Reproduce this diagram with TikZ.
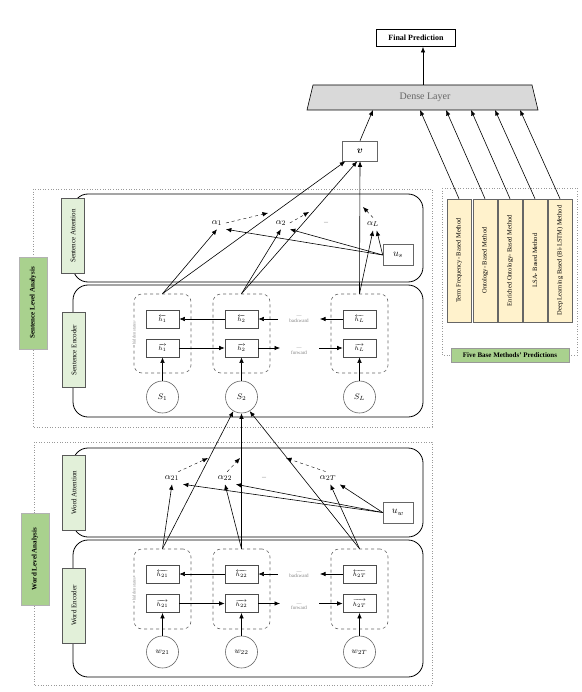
\documentclass[tikz,border=0pt]{standalone}
\usepackage{amsmath}
\usepackage{fontspec}
\setmainfont{Liberation Serif}
\usepackage{tikz}
\usetikzlibrary{arrows.meta}

\definecolor{labgreen}{HTML}{E2F0D9}
\definecolor{anagreen}{HTML}{A9D18E}
\definecolor{methyellow}{HTML}{FFF2CC}

\begin{document}
\begin{tikzpicture}[x=1pt, y=-1pt, semithick,
    >={Latex[length=5.5pt,width=4.5pt]},
    lab/.style={draw=black!65, fill=labgreen, rotate=90, minimum width=75, minimum height=23, inner sep=1, font=\fontsize{7}{8}\selectfont},
    ana/.style={draw=black!30, fill=anagreen, rotate=90, minimum width=92, minimum height=28, inner sep=1, font=\fontsize{7}{8}\selectfont\bfseries},
    block/.style={draw, line width=0.8pt, rounded corners=15, minimum width=350},
    grp/.style={draw=black!60, dashed, rounded corners=8, minimum width=57, minimum height=79},
    hbox/.style={draw=black!70, line width=0.7pt, minimum width=33, minimum height=18, inner sep=0, font=\fontsize{6}{7}\selectfont},
    inp/.style={circle, draw=black!60, minimum size=32, inner sep=0, font=\fontsize{8}{9}\selectfont},
    meth/.style={draw=black!60, fill=methyellow, rotate=90, minimum width=123, minimum height=24, inner sep=1, font=\fontsize{6.5}{7}\selectfont},
    alab/.style={font=\fontsize{9.5}{10}\selectfont},
    dots/.style={text=black!50, align=center, inner sep=0, font=\fontsize{5}{4.5}\selectfont},
    dash arrow/.style={->, dashed, thin}]
    % Frame
    \useasboundingbox (0,0) rectangle (581,692);

    % Output
    \node[draw, line width=0.9pt, minimum width=79, minimum height=17, font=\fontsize{8}{9}\selectfont\bfseries] (final) at (416,38) {Final Prediction};
    \draw[fill=black!15] (307,110) -- (313,85) -- (532,85) -- (538,110) -- cycle;
    \node[text=black!60, font=\fontsize{10}{12}\selectfont] (dense) at (425,97.5) {Dense Layer};
    \coordinate (dtop) at (423,85);
    \draw[->] (dtop) -- (dtop |- final.south);
    \node[draw=black!60, minimum width=35, minimum height=20] (v) at (360,151) {$\boldsymbol{v}$};
    \coordinate (dv) at (373,110);
    \draw[->] (v.north) -- (dv);

    % Base methods
    \draw[dotted, black!40] (442,188) rectangle (577,355);
    \foreach \i/\x/\dx/\name in {1/459/420/Term Frequency- Based Method, 2/485/446/Ontology- Based Method, 3/510/471/Enriched Ontology- Based Method, 4/535/495/LSA- Based Method, 5/560/520/Deep Learning Based (Bi-LSTM) Method}{
        \node[meth] (m\i) at (\x,260.5) {\name};
        \coordinate (d\i) at (\dx,110);
        \draw[->] (m\i.east) -- (d\i);
    }
    \node[draw=black!40, fill=anagreen, minimum width=118, minimum height=14, inner sep=1, font=\fontsize{7}{8}\selectfont\bfseries] (five) at (510,355) {Five Base Methods' Predictions};

    % Sentence level
    \draw[dotted, black!40] (33,189) rectangle (432,427);
    \node[ana] (slevel) at (33,303) {Sentence Level Analysis};
    \node[block, minimum height=88] (satt) at (248,238) {};
    \node[block, minimum height=132] (senc) at (248,351) {};
    \node[lab] (sattlab) at (73,236) {Sentence Attention};
    \node[lab] (senclab) at (74,350) {Sentence Encoder};

    % Sentence encoder
    \foreach \i/\x/\s in {1/162.5/1, 2/241.5/2, 3/359.5/L}{
        \node[grp] (sg\i) at (\x,333.5) {};
        \node[hbox] (sb\i) at (\x,319) {$\overleftarrow{h_\s}$};
        \node[hbox] (sf\i) at (\x,348) {$\overrightarrow{h_\s}$};
        \node[inp] (s\i) at (\x,397) {$S_\s$};
        \draw[->] (s\i) -- (sf\i);
    }
    \node[text=black!45, rotate=90, fill=white, inner sep=0.5, font=\fontsize{4.5}{5}\selectfont] (shid) at (134,333) {hidden states};
    \coordinate (sbk1) at (278,319);
    \coordinate (sbk2) at (320,319);
    \coordinate (sfw1) at (280,348);
    \coordinate (sfw2) at (319,348);
    \draw[->] (sb2) -- (sb1);
    \draw[->] (sbk1) -- (sb2);
    \draw[->] (sb3) -- (sbk2);
    \draw[->] (sf1) -- (sf2);
    \draw[->] (sf2) -- (sfw1);
    \draw[->] (sfw2) -- (sf3);
    \node[dots] (sbw) at (299,319.5) {---\\backward};
    \node[dots] (sfw) at (299,351.5) {---\\forward};

    % Sentence attention
    \node[alab] (a1) at (217,223) {$\alpha_1$};
    \node[alab] (a2) at (281,223) {$\alpha_2$};
    \node[dots, font=\fontsize{8}{8}\selectfont] (sdots) at (326,223) {--};
    \node[alab] (aL) at (373,224) {$\alpha_L$};
    \node[draw=black!60, minimum width=30, minimum height=21] (us) at (398,255) {$u_s$};
    \coordinate (sa1) at (268,213);
    \coordinate (sa2) at (309,212);
    \coordinate (saL) at (363,207);
    \draw[dash arrow] (a1.east) -- (sa1);
    \draw[dash arrow] (a2.east) -- (sa2);
    \draw[dash arrow] (aL.north) -- (saL);
    \draw[->] (us.west) -- (a1.south east);
    \draw[->] (us.west) -- (a2.south east);
    \draw[->] (us.west) -- (aL.-60);
    \draw[->] (sg1.north) -- (a1.south);
    \draw[->] (sg2.north) -- (a2.south);
    \draw[->] (sg3.north) -- (aL.south);
    \draw[->] (sg1.north) -- (v.-145);
    \draw[->] (sg2.north) -- (v.-105);
    \draw[->] (sg3.north) -- (v.south);

    % Word level
    \draw[dotted, black!40] (34,442) rectangle (432,685);
    \node[ana] (wlevel) at (35,559) {Word Level Analysis};
    \node[block, minimum height=89] (watt) at (248,492.5) {};
    \node[block, minimum height=137] (wenc) at (248,608.5) {};
    \node[lab] (wattlab) at (74,492.5) {Word Attention};
    \node[lab] (wenclab) at (74,605.5) {Word Encoder};

    % Word encoder
    \foreach \i/\x/\s in {1/162.5/21, 2/241.5/22, 3/359.5/2T}{
        \node[grp, minimum height=80] (wg\i) at (\x,589) {};
        \node[hbox] (wb\i) at (\x,574) {$\overleftarrow{h_{\s}}$};
        \node[hbox] (wf\i) at (\x,603.5) {$\overrightarrow{h_{\s}}$};
        \node[inp] (w\i) at (\x,652) {$w_{\s}$};
        \draw[->] (w\i) -- (wf\i);
    }
    \node[text=black!45, rotate=90, fill=white, inner sep=0.5, font=\fontsize{4.5}{5}\selectfont] (whid) at (134,589) {hidden states};
    \coordinate (wbk1) at (278,574);
    \coordinate (wbk2) at (320,574);
    \coordinate (wfw1) at (280,603.5);
    \coordinate (wfw2) at (319,603.5);
    \draw[->] (wb2) -- (wb1);
    \draw[->] (wbk1) -- (wb2);
    \draw[->] (wb3) -- (wbk2);
    \draw[->] (wf1) -- (wf2);
    \draw[->] (wf2) -- (wfw1);
    \draw[->] (wfw2) -- (wf3);
    \node[dots] (wbw) at (299,575) {---\\backward};
    \node[dots] (wfw) at (299,607) {---\\forward};

    % Word attention
    \node[alab] (a21) at (172,478) {$\alpha_{21}$};
    \node[alab] (a22) at (225,478) {$\alpha_{22}$};
    \node[dots, font=\fontsize{8}{8}\selectfont] (wdots) at (264,478) {--};
    \node[alab] (a2T) at (328,478) {$\alpha_{2T}$};
    \node[draw=black!60, minimum width=30, minimum height=21] (uw) at (398,512.5) {$u_w$};
    \coordinate (wa1) at (208,458);
    \coordinate (wa2) at (240,458);
    \coordinate (wa3) at (286,458);
    \draw[dash arrow] (a21.45) -- (wa1);
    \draw[dash arrow] (a22.70) -- (wa2);
    \draw[dash arrow] (a2T.110) -- (wa3);
    \draw[->] (uw.west) -- (a21.south east);
    \draw[->] (uw.west) -- (a22.south east);
    \draw[->] (uw.west) -- (a2T.south east);
    \draw[->] (wg1.north) -- (a21.south);
    \draw[->] (wg2.north) -- (a22.south);
    \draw[->] (wg3.north) -- (a2T.-70);
    \draw[->] (wg1.north) -- (s2.-120);
    \draw[->] (wg2.north) -- (s2.south);
    \draw[->] (wg3.north) -- (s2.-60);
\end{tikzpicture}
\end{document}
